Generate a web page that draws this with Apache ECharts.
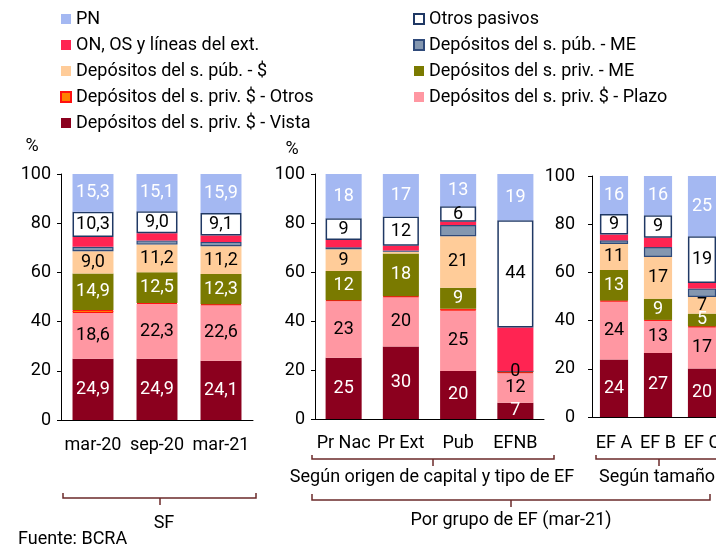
<!DOCTYPE html>
<html>
<head>
<meta charset="utf-8">
<script src="https://cdn.jsdelivr.net/npm/echarts@6/dist/echarts.min.js"></script>
<style>
html,body{margin:0;padding:0;background:#fff;}
#chart{width:716px;height:544px;}
</style>
</head>
<body>
<div id="chart"></div>
<script>
// ---- categories ----
const categories1 = ['mar-20', 'sep-20', 'mar-21'];
const categories2 = ['Pr Nac', 'Pr Ext', 'Pub', 'EFNB'];
const categories3 = ['EF A', 'EF B', 'EF C'];

// ---- series names (bottom to top) ----
const seriesNames = [
  'Depósitos del s. priv. $ - Vista',
  'Depósitos del s. priv. $ - Plazo',
  'Depósitos del s. priv. $ - Otros',
  'Depósitos del s. priv. - ME',
  'Depósitos del s. púb. - $',
  'Depósitos del s. púb. - ME',
  'ON, OS y líneas del ext.',
  'Otros pasivos',
  'PN'
];

// ---- panel 1: SF ----
const vista1     = [24.9, 24.9, 24.1];
const plazo1     = [18.6, 22.3, 22.6];
const otrosPriv1 = [1.2, 0.4, 0.4];
const privME1    = [14.9, 12.5, 12.3];
const pubPesos1  = [9.0, 11.2, 11.2];
const pubME1     = [1.8, 1.7, 1.8];
const on1        = [4.0, 2.9, 2.6];
const otrosPas1  = [10.3, 9.0, 9.1];
const pn1        = [15.3, 15.1, 15.9];

// ---- panel 2: origen de capital y tipo de EF ----
const vista2     = [25.0, 29.6, 19.6, 6.6];
const plazo2     = [23.2, 20.2, 24.6, 12.2];
const otrosPriv2 = [0.3, 0.3, 0.8, 0.3];
const privME2    = [11.9, 17.5, 8.6, 0.4];
const pubPesos2  = [8.9, 0.7, 21.0, 0];
const pubME2     = [0.8, 0.5, 4.6, 0];
const on2        = [3.0, 1.9, 1.3, 17.8];
const otrosPas2  = [8.8, 12.0, 6.3, 43.8];
const pn2        = [18.1, 17.3, 13.2, 18.9];

// ---- panel 3: tamaño ----
const vista3     = [23.9, 26.6, 20.1];
const plazo3     = [24.1, 13.4, 17.2];
const otrosPriv3 = [0.3, 0.3, 0.3];
const privME3    = [12.7, 8.8, 5.3];
const pubPesos3  = [10.8, 17.3, 6.9];
const pubME3     = [1.5, 4.1, 3.5];
const on3        = [2.4, 3.9, 2.3];
const otrosPas3  = [8.5, 9.3, 19.4];
const pn3        = [15.8, 16.3, 25.0];

// ---- y axis ticks ----
const yMin = 0, yMax = 100, yStep = 20;

const panels = [
  [vista1, plazo1, otrosPriv1, privME1, pubPesos1, pubME1, on1, otrosPas1, pn1],
  [vista2, plazo2, otrosPriv2, privME2, pubPesos2, pubME2, on2, otrosPas2, pn2],
  [vista3, plazo3, otrosPriv3, privME3, pubPesos3, pubME3, on3, otrosPas3, pn3]
];

const FONT = 'Roboto, "Noto Sans", sans-serif';
const FS = 18;
const styles = [
  {color: '#8B001E', label: '#fff', show: true},
  {color: '#FF97A2', label: '#000', show: true},
  {color: '#FF8000', borderColor: '#FF1010', borderWidth: 1, label: '#000', show: false},
  {color: '#7A7A00', label: '#fff', show: true},
  {color: '#FFCC99', label: '#000', show: true},
  {color: '#8497B0', borderColor: '#2F4A7A', borderWidth: 1.2, label: '#000', show: false},
  {color: '#FF2452', label: '#000', show: false},
  {color: '#FFFFFF', borderColor: '#1F3864', borderWidth: 1.5, label: '#000', show: true},
  {color: '#A4B8F2', label: '#fff', show: true}
];
const barWidths = ['64%', '63%', '64%'];

const series = [];
panels.forEach((panel, pi) => {
  panel.forEach((vals, si) => {
    const st = styles[si];
    series.push({
      name: seriesNames[si],
      type: 'bar',
      stack: 'p' + pi,
      xAxisIndex: pi,
      yAxisIndex: pi,
      barWidth: barWidths[pi],
      itemStyle: {
        color: st.color,
        borderColor: st.borderColor || st.color,
        borderWidth: st.borderWidth || 0
      },
      label: {
        show: st.show,
        position: 'inside',
        color: st.label,
        fontSize: FS,
        fontFamily: FONT,
        formatter: (p) => {
          const v = p.value;
          if (v <= 0) return '';
          if (v < 1 && si !== 3) return '';
          if (pi === 0) return v.toFixed(1).replace('.', ',');
          return String(Math.round(v));
        }
      },
      data: vals.map(v => (si === 3 && v < 1) ? {value: v, label: {color: '#000'}} : v),
      emphasis: {disabled: true}
    });
  });
});

const grids = [
  {left: 61, top: 174, width: 192, height: 246, outerBoundsMode: 'none', containLabel: false},
  {left: 315, top: 174, width: 229, height: 245, outerBoundsMode: 'none', containLabel: false},
  {left: 592, top: 176, width: 132, height: 241, outerBoundsMode: 'none', containLabel: false}
];
const cats = [categories1, categories2, categories3];
const xMargins = [16, 15, 17];
const yMargins = [10, 10, 17];

const axisLineStyle = {color: '#000', width: 1};

const xAxes = cats.map((c, i) => ({
  type: 'category', gridIndex: i, data: c,
  axisLine: {show: true, lineStyle: axisLineStyle},
  axisTick: {show: false},
  axisLabel: {color: '#000', fontSize: FS, fontFamily: FONT, margin: xMargins[i], interval: 0, hideOverlap: false}
}));
const yAxes = cats.map((c, i) => ({
  type: 'value', gridIndex: i, min: yMin, max: yMax, interval: yStep,
  axisLine: {show: true, lineStyle: axisLineStyle},
  axisTick: {show: true, inside: false, length: 4, lineStyle: axisLineStyle},
  splitLine: {show: false},
  axisLabel: {color: '#000', fontSize: FS, fontFamily: FONT, margin: yMargins[i]}
}));

const BR = '#6B2A2A';
function line(points) {
  return {type: 'polyline', shape: {points: points}, style: {stroke: BR, lineWidth: 1.5, fill: null}, silent: true};
}
function txt(x, y, text, align) {
  return {type: 'text', x: x, y: y, style: {text: text, fill: '#000', font: FS + 'px ' + FONT, align: align || 'center', verticalAlign: 'middle'}, silent: true};
}

const graphics = [
  txt(32, 146, '%'),
  txt(292, 149, '%'),
  line([[63, 493], [63, 498], [256, 498], [256, 493]]),
  line([[160, 498], [160, 505]]),
  txt(164, 523, 'SF'),
  line([[312, 455], [312, 459], [554, 459], [554, 455]]),
  line([[433, 459], [433, 466]]),
  txt(432, 477, 'Según origen de capital y tipo de EF'),
  line([[596, 455], [596, 459], [730, 459]]),
  line([[659, 459], [659, 466]]),
  txt(599, 477, 'Según tamaño', 'left'),
  line([[312, 494], [312, 500], [710, 500], [710, 494]]),
  line([[511, 500], [511, 507]]),
  txt(511, 520, 'Por grupo de EF (mar-21)'),
  txt(18, 539, 'Fuente: BCRA', 'left')
];

const legendText = {color: '#000', fontSize: FS, fontFamily: FONT, lineHeight: 18};
const option = {
  animation: false,
  textStyle: {fontFamily: FONT},
  legend: [
    {
      data: ['PN', 'ON, OS y líneas del ext.', 'Depósitos del s. púb. - $', 'Depósitos del s. priv. $ - Otros', 'Depósitos del s. priv. $ - Vista'],
      orient: 'vertical', left: 60, top: 10, padding: 0, itemGap: 8,
      itemWidth: 10, itemHeight: 10, icon: 'rect', textStyle: legendText, selectedMode: false
    },
    {
      data: ['Otros pasivos', 'Depósitos del s. púb. - ME', 'Depósitos del s. priv. - ME', 'Depósitos del s. priv. $ - Plazo'],
      orient: 'vertical', left: 413, top: 10, padding: 0, itemGap: 8,
      itemWidth: 10, itemHeight: 10, icon: 'rect', textStyle: legendText, selectedMode: false
    }
  ],
  grid: grids,
  xAxis: xAxes,
  yAxis: yAxes,
  series: series,
  graphic: graphics
};

const chart = echarts.init(document.getElementById('chart'), null, {renderer: 'canvas'});
chart.setOption(option);
</script>
</body>
</html>
